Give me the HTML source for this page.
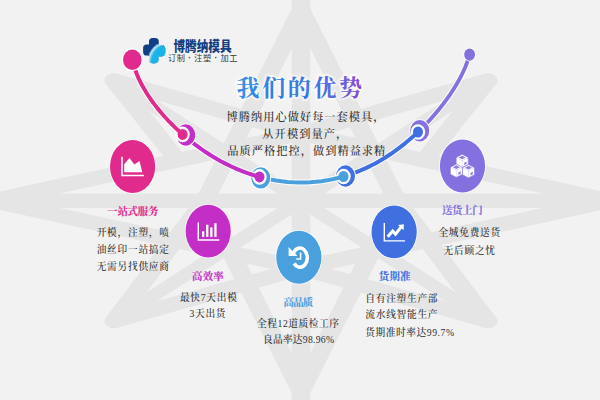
<!DOCTYPE html>
<html lang="zh-CN"><head><meta charset="utf-8"><title>我们的优势</title>
<style>
html,body{margin:0;padding:0;background:#f2f2f2;}
body{width:600px;height:400px;overflow:hidden;font-family:"Liberation Serif","Noto Serif CJK SC",serif;}
svg{display:block}
.h{font-family:"Liberation Serif","Noto Serif CJK SC",serif;font-weight:700;font-size:10.4px;}
.b{font-family:"Liberation Serif","Noto Serif CJK SC",serif;font-weight:500;font-size:9.7px;fill:#2e2e2e;}
.p{font-family:"Liberation Serif","Noto Serif CJK SC",serif;font-weight:500;font-size:11.2px;fill:#2e2e2e;}
</style></head><body>
<svg width="600" height="400" viewBox="0 0 600 400">
<defs>
<linearGradient id="tg" x1="0" y1="0" x2="1" y2="0"><stop offset="0" stop-color="#3a90e6"/><stop offset="0.3" stop-color="#2f7fe2"/><stop offset="0.6" stop-color="#3a76e4"/><stop offset="0.8" stop-color="#5f68e0"/><stop offset="1" stop-color="#8b46d2"/></linearGradient>
<filter id="glow" x="-10%" y="-30%" width="120%" height="160%"><feGaussianBlur stdDeviation="0.8"/></filter>
</defs>
<rect width="600" height="400" fill="#f2f2f2"/>
<g id="star"><g transform="translate(301,0) scale(1.3,1)"><polyline points="-73.85,200.70 0.00,10.00 73.85,200.70" fill="none" stroke="#e5e5e5" stroke-width="14.4" stroke-linejoin="round" stroke-linecap="round"/><polyline points="-73.85,200.70 0.00,391.50 73.85,200.70" fill="none" stroke="#e5e5e5" stroke-width="14.4" stroke-linejoin="round" stroke-linecap="round"/><polyline points="-143.85,80.50 -94.77,160.30" fill="none" stroke="#e5e5e5" stroke-width="14.4" stroke-linejoin="round" stroke-linecap="round"/><polyline points="143.85,80.50 94.77,160.30" fill="none" stroke="#e5e5e5" stroke-width="14.4" stroke-linejoin="round" stroke-linecap="round"/><polyline points="-143.85,321.00 -73.85,200.70" fill="none" stroke="#e5e5e5" stroke-width="14.4" stroke-linejoin="round" stroke-linecap="round"/><polyline points="143.85,321.00 73.85,200.70" fill="none" stroke="#e5e5e5" stroke-width="14.4" stroke-linejoin="round" stroke-linecap="round"/><polyline points="-143.85,80.50 0.00,133.50 237.69,200.70 0.00,268.00 -143.85,321.00" fill="none" stroke="#e5e5e5" stroke-width="14.4" stroke-linejoin="round" stroke-linecap="round"/><polyline points="143.85,80.50 0.00,133.50 -237.69,200.70 0.00,268.00 143.85,321.00" fill="none" stroke="#e5e5e5" stroke-width="14.4" stroke-linejoin="round" stroke-linecap="round"/><polyline points="0.00,-10.00 0.00,410.00" fill="none" stroke="#e5e5e5" stroke-width="14.4" stroke-linejoin="round" stroke-linecap="round"/><polyline points="-246.92,200.70 245.38,200.70" fill="none" stroke="#e5e5e5" stroke-width="14.4" stroke-linejoin="round" stroke-linecap="round"/><polyline points="-143.85,80.50 143.85,321.00" fill="none" stroke="#e5e5e5" stroke-width="12" stroke-linejoin="round" stroke-linecap="round"/><polyline points="143.85,80.50 -143.85,321.00" fill="none" stroke="#e5e5e5" stroke-width="12" stroke-linejoin="round" stroke-linecap="round"/></g></g>
<path d="M417.99,131.96 L422.48,127.58 L426.86,123.08 L431.11,118.49 L435.23,113.79 L439.23,108.99 L443.09,104.1 L446.81,99.12 L450.38,94.03 L453.78,88.84 L457.0,83.53 L460.03,78.09 L462.83,72.5 L465.39,66.74 L467.66,60.78 L469.6,54.6" fill="none" stroke="#fff" stroke-width="5.9" stroke-linecap="round" stroke-linejoin="round" opacity="0.92"/><path d="M417.99,131.96 L422.48,127.58 L426.86,123.08 L431.11,118.49 L435.23,113.79 L439.23,108.99 L443.09,104.1 L446.81,99.12 L450.38,94.03 L453.78,88.84 L457.0,83.53 L460.03,78.09 L462.83,72.5 L465.39,66.74 L467.66,60.78 L469.6,54.6" fill="none" stroke="#8570e0" stroke-width="3.9" stroke-linecap="round" stroke-linejoin="round"/>
<ellipse cx="419.75" cy="130.75" rx="10.4" ry="11.6" fill="#fff" opacity="0.92"/><ellipse cx="419.75" cy="130.75" rx="9.5" ry="10.7" fill="#8570e0" /><ellipse cx="418" cy="132" rx="7.2" ry="7.8" fill="#fff" />
<path d="M343.49,176.5 L349.04,174.77 L354.52,172.84 L359.94,170.7 L365.27,168.37 L370.53,165.85 L375.7,163.15 L380.79,160.27 L385.78,157.23 L390.68,154.03 L395.48,150.68 L400.18,147.19 L404.79,143.56 L409.29,139.81 L413.69,135.94 L417.99,131.96" fill="none" stroke="#fff" stroke-width="6" stroke-linecap="round" stroke-linejoin="round" opacity="0.92"/><path d="M343.49,176.5 L349.04,174.77 L354.52,172.84 L359.94,170.7 L365.27,168.37 L370.53,165.85 L375.7,163.15 L380.79,160.27 L385.78,157.23 L390.68,154.03 L395.48,150.68 L400.18,147.19 L404.79,143.56 L409.29,139.81 L413.69,135.94 L417.99,131.96" fill="none" stroke="#4070e0" stroke-width="4" stroke-linecap="round" stroke-linejoin="round"/>
<ellipse cx="345.5" cy="176.0" rx="10.4" ry="11.6" fill="#fff" opacity="0.92"/><ellipse cx="345.5" cy="176.0" rx="9.5" ry="10.7" fill="#4070e0" /><ellipse cx="343.5" cy="176.5" rx="7.2" ry="7.8" fill="#fff" />
<path d="M259.52,176.9 L265.04,178.3 L270.6,179.51 L276.2,180.53 L281.82,181.34 L287.47,181.95 L293.13,182.35 L298.79,182.54 L304.46,182.52 L310.12,182.3 L315.76,181.85 L321.38,181.2 L326.97,180.34 L332.52,179.27 L338.03,177.99 L343.49,176.5" fill="none" stroke="#fff" stroke-width="6" stroke-linecap="round" stroke-linejoin="round" opacity="0.92"/><path d="M259.52,176.9 L265.04,178.3 L270.6,179.51 L276.2,180.53 L281.82,181.34 L287.47,181.95 L293.13,182.35 L298.79,182.54 L304.46,182.52 L310.12,182.3 L315.76,181.85 L321.38,181.2 L326.97,180.34 L332.52,179.27 L338.03,177.99 L343.49,176.5" fill="none" stroke="#4aa0dc" stroke-width="4" stroke-linecap="round" stroke-linejoin="round"/>
<ellipse cx="260.75" cy="177.85" rx="10.4" ry="11.6" fill="#fff" opacity="0.92"/><ellipse cx="260.75" cy="177.85" rx="9.5" ry="10.7" fill="#4aa0dc" /><ellipse cx="259.5" cy="176.9" rx="7.2" ry="7.8" fill="#fff" />
<path d="M182.59,134.39 L187.06,138.21 L191.64,141.91 L196.32,145.49 L201.1,148.95 L205.98,152.28 L210.96,155.46 L216.03,158.51 L221.19,161.4 L226.44,164.14 L231.77,166.72 L237.18,169.12 L242.67,171.35 L248.22,173.39 L253.84,175.24 L259.52,176.9" fill="none" stroke="#fff" stroke-width="6" stroke-linecap="round" stroke-linejoin="round" opacity="0.92"/><path d="M182.59,134.39 L187.06,138.21 L191.64,141.91 L196.32,145.49 L201.1,148.95 L205.98,152.28 L210.96,155.46 L216.03,158.51 L221.19,161.4 L226.44,164.14 L231.77,166.72 L237.18,169.12 L242.67,171.35 L248.22,173.39 L253.84,175.24 L259.52,176.9" fill="none" stroke="#c32fc6" stroke-width="4" stroke-linecap="round" stroke-linejoin="round"/>
<ellipse cx="185.79999999999998" cy="135.0" rx="10.4" ry="11.6" fill="#fff" opacity="0.92"/><ellipse cx="185.79999999999998" cy="135.0" rx="9.5" ry="10.7" fill="#c32fc6" /><ellipse cx="182.6" cy="134.4" rx="7.2" ry="7.8" fill="#fff" />
<path d="M132.31,60.19 L133.98,66.28 L136.01,72.14 L138.37,77.8 L141.01,83.27 L143.9,88.58 L147.03,93.73 L150.35,98.74 L153.86,103.61 L157.54,108.36 L161.38,112.98 L165.36,117.5 L169.48,121.89 L173.73,126.17 L178.1,130.34 L182.59,134.39" fill="none" stroke="#fff" stroke-width="6" stroke-linecap="round" stroke-linejoin="round" opacity="0.92"/><path d="M132.31,60.19 L133.98,66.28 L136.01,72.14 L138.37,77.8 L141.01,83.27 L143.9,88.58 L147.03,93.73 L150.35,98.74 L153.86,103.61 L157.54,108.36 L161.38,112.98 L165.36,117.5 L169.48,121.89 L173.73,126.17 L178.1,130.34 L182.59,134.39" fill="none" stroke="#e02b8d" stroke-width="4" stroke-linecap="round" stroke-linejoin="round"/>
<ellipse cx="182.6" cy="134.4" rx="5.0" ry="5.5" fill="#e02b8d" />
<ellipse cx="259.5" cy="176.9" rx="5.0" ry="5.5" fill="#c32fc6" />
<ellipse cx="343.5" cy="176.5" rx="5.0" ry="5.5" fill="#4aa0dc" />
<ellipse cx="418" cy="132" rx="5.0" ry="5.5" fill="#4070e0" />
<ellipse cx="132.3" cy="59.8" rx="10.2" ry="11.2" fill="#fff" opacity="0.92"/>
<ellipse cx="132.3" cy="59.8" rx="9.3" ry="10.3" fill="#e02b8d" />
<ellipse cx="469.6" cy="54.6" rx="6.3" ry="7" fill="#fff" opacity="0.92"/>
<ellipse cx="469.6" cy="54.6" rx="5.4" ry="6.1" fill="#8570e0" />
<ellipse cx="132.6" cy="166.5" rx="23.4" ry="27.2" fill="#fff" opacity="0.85"/>
<ellipse cx="132.6" cy="166.5" rx="22.6" ry="26.4" fill="#e02b8d" />
<ellipse cx="208.2" cy="231.1" rx="23.4" ry="27.2" fill="#fff" opacity="0.85"/>
<ellipse cx="208.2" cy="231.1" rx="22.6" ry="26.4" fill="#c32fc6" />
<ellipse cx="298.85" cy="257.25" rx="23.4" ry="27.2" fill="#fff" opacity="0.85"/>
<ellipse cx="298.85" cy="257.25" rx="22.6" ry="26.4" fill="#4aa0dc" />
<ellipse cx="394.15" cy="231.9" rx="23.4" ry="27.2" fill="#fff" opacity="0.85"/>
<ellipse cx="394.15" cy="231.9" rx="22.6" ry="26.4" fill="#4070e0" />
<ellipse cx="462.5" cy="166" rx="23.4" ry="27.2" fill="#fff" opacity="0.85"/>
<ellipse cx="462.5" cy="166" rx="22.6" ry="26.4" fill="#8570e0" />
<path d="M122,156.7 V175.4 H143.8" fill="none" stroke="#fff" stroke-width="1.5"/>
<path d="M124.2,172.2 V164.2 L129.5,158 L134.3,164.4 L139.5,161 L142.3,172.2 Z" fill="#fff"/>
<path d="M198.3,222.2 V240 H219.3" fill="none" stroke="#fff" stroke-width="1.4"/>
<rect x="202" y="231.2" width="2.3" height="5.7" fill="#fff"/>
<rect x="206.1" y="224.7" width="2.3" height="12.2" fill="#fff"/>
<rect x="210.2" y="227.4" width="2.3" height="9.5" fill="#fff"/>
<rect x="214.3" y="223.2" width="2.3" height="13.7" fill="#fff"/>
<path d="M293.55,253.14 A7.3,9.6 0 1 1 294.17,263.43" fill="none" stroke="#fff" stroke-width="3.5"/>
<path d="M288.6,247.1 L288.6,255.9 L297.4,255.9 Z" fill="#fff"/>
<path d="M300.6,252.5 V259 H296.3" fill="none" stroke="#fff" stroke-width="1.6"/>
<path d="M384.3,223 V240.8 H405" fill="none" stroke="#fff" stroke-width="1.35"/>
<path d="M387.7,236.8 L392.7,231 L395.5,234.2 L401.6,226.4" fill="none" stroke="#fff" stroke-width="3" stroke-linejoin="miter"/>
<path d="M398.1,224.9 L403.9,224.2 L403.6,230.2 Z" fill="#fff"/>
<path d="M462.2,154.3 L468.25,157.5 L468.25,164.5 L462.2,167.70000000000002 L456.15,164.5 L456.15,157.5 Z" fill="#fff" stroke="#8570e0" stroke-width="0.6" stroke-linejoin="round"/><path d="M462.2,155.644 L465.709,157.5 L462.2,159.356 L458.691,157.5 Z" fill="#8570e0" opacity="0.9"/><path d="M456.15,157.5 L462.2,160.70000000000002 L468.25,157.5 M462.2,160.70000000000002 V167.70000000000002" fill="none" stroke="#8570e0" stroke-width="0.5" opacity="0.45"/><path d="M464.1965,162.66000000000003 L466.4955,161.44400000000002 L466.4955,163.96400000000003 L464.1965,165.18000000000004 Z" fill="#8570e0" opacity="0.9"/>
<path d="M456.4,164.0 L462.45,167.2 L462.45,174.2 L456.4,177.4 L450.34999999999997,174.2 L450.34999999999997,167.2 Z" fill="#fff" stroke="#8570e0" stroke-width="0.6" stroke-linejoin="round"/><path d="M456.4,165.344 L459.909,167.2 L456.4,169.05599999999998 L452.89099999999996,167.2 Z" fill="#8570e0" opacity="0.9"/><path d="M450.34999999999997,167.2 L456.4,170.4 L462.45,167.2 M456.4,170.4 V177.4" fill="none" stroke="#8570e0" stroke-width="0.5" opacity="0.45"/><path d="M458.3965,172.36 L460.6955,171.144 L460.6955,173.66400000000002 L458.3965,174.88000000000002 Z" fill="#8570e0" opacity="0.9"/>
<path d="M468.5,164.5 L474.55,167.7 L474.55,174.7 L468.5,177.9 L462.45,174.7 L462.45,167.7 Z" fill="#fff" stroke="#8570e0" stroke-width="0.6" stroke-linejoin="round"/><path d="M468.5,165.844 L472.009,167.7 L468.5,169.55599999999998 L464.991,167.7 Z" fill="#8570e0" opacity="0.9"/><path d="M462.45,167.7 L468.5,170.9 L474.55,167.7 M468.5,170.9 V177.9" fill="none" stroke="#8570e0" stroke-width="0.5" opacity="0.45"/><path d="M470.4965,172.86 L472.7955,171.644 L472.7955,174.16400000000002 L470.4965,175.38000000000002 Z" fill="#8570e0" opacity="0.9"/>
<g id="logo"><defs><clipPath id="clv"><rect x="149" y="38.1" width="9.8" height="14" rx="3.6"/><rect x="143.1" y="44.5" width="11" height="11" rx="3.6"/><rect x="154" y="44.9" width="11.2" height="11.5" rx="3.8"/><rect x="149" y="50" width="9.4" height="13.2" rx="3.8"/><rect x="148" y="46" width="11" height="10"/></clipPath></defs><g clip-path="url(#clv)"><rect x="140" y="35" width="30" height="30" fill="#103f86"/><circle cx="167.2" cy="60.8" r="19.6" fill="#4f8fd0"/><circle cx="167.6" cy="61.2" r="19.2" fill="#bfe4f8"/><circle cx="168.3" cy="61.6" r="18.6" fill="#6cc4ee"/><circle cx="169.2" cy="62.4" r="18.2" fill="#19b4e6"/></g></g>
<text x="173.4" y="50.5" font-family="'Liberation Sans','Noto Sans CJK SC',sans-serif" font-weight="900" font-size="13.2" fill="#123f82" textLength="58.2" lengthAdjust="spacingAndGlyphs">博腾纳模具</text>
<text x="168" y="61.4" font-family="'Liberation Sans','Noto Sans CJK SC',sans-serif" font-weight="400" font-size="8.2" fill="#3a3a3a" textLength="69.5" lengthAdjust="spacing">订制 <tspan font-weight="900">·</tspan> 注塑 <tspan font-weight="900">·</tspan> 加工</text>
<text x="236.6" y="95.6" font-family="'Liberation Serif','Noto Serif CJK SC',serif" font-weight="700" font-size="23" fill="#fff" stroke="#fff" stroke-width="3" stroke-linejoin="round" opacity="0.8" textLength="125.4" lengthAdjust="spacing" filter="url(#glow)">我们的优势</text>
<text x="236.6" y="95.6" font-family="'Liberation Serif','Noto Serif CJK SC',serif" font-weight="700" font-size="23" fill="url(#tg)" textLength="125.4" lengthAdjust="spacing">我们的优势</text>
<text x="226.5" y="120.6" class="p" textLength="158" lengthAdjust="spacing">博腾纳用心做好每一套模具，</text>
<text x="262.3" y="138.4" class="p" textLength="85" lengthAdjust="spacing">从开模到量产，</text>
<text x="227.3" y="155.2" class="p" textLength="158" lengthAdjust="spacing">品质严格把控，做到精益求精</text>
<text x="107.3" y="215" class="h" fill="#e02b8d" stroke="#e02b8d" stroke-width="0.15" textLength="51" lengthAdjust="spacing">一站式服务</text>
<text x="96.7" y="236" class="b" textLength="72.2" lengthAdjust="spacing">开模，注塑，喷</text>
<text x="96.7" y="253" class="b" textLength="72.2" lengthAdjust="spacing">油丝印一站搞定</text>
<text x="96.7" y="270.3" class="b" textLength="72.2" lengthAdjust="spacing">无需另找供应商</text>
<text x="192.1" y="279.6" class="h" fill="#c32fc6" stroke="#c32fc6" stroke-width="0.15" textLength="31.6" lengthAdjust="spacing">高效率</text>
<text x="179.9" y="301" class="b" textLength="57" lengthAdjust="spacing">最快<tspan font-weight="400">7</tspan>天出模</text>
<text x="189.5" y="317.3" class="b" textLength="36" lengthAdjust="spacing"><tspan font-weight="400">3</tspan>天出货</text>
<text x="283.6" y="305.5" class="h" fill="#4aa0dc" stroke="#4aa0dc" stroke-width="0.15" textLength="29.6" lengthAdjust="spacing">高品质</text>
<text x="257" y="326.8" class="b" textLength="82" lengthAdjust="spacing">全程<tspan font-weight="400">12</tspan>道质检工序</text>
<text x="263" y="343.3" class="b" textLength="71" lengthAdjust="spacing">良品率达<tspan font-weight="400">98.96%</tspan></text>
<text x="378.7" y="280.4" class="h" fill="#4070e0" stroke="#4070e0" stroke-width="0.15" textLength="31.8" lengthAdjust="spacing">货期准</text>
<text x="365.3" y="301.7" class="b" textLength="72.2" lengthAdjust="spacing">自有注塑生产部</text>
<text x="365.3" y="318.1" class="b" textLength="72.2" lengthAdjust="spacing">流水线智能生产</text>
<text x="365.3" y="335.5" class="b" textLength="88.7" lengthAdjust="spacing">货期准时率达<tspan font-weight="400">99.7%</tspan></text>
<text x="441.9" y="214.4" class="h" fill="#8570e0" stroke="#8570e0" stroke-width="0.15" textLength="40.8" lengthAdjust="spacing">送货上门</text>
<text x="438.4" y="236" class="b" textLength="61.8" lengthAdjust="spacing">全城免费送货</text>
<text x="443.6" y="254.1" class="b" textLength="51.4" lengthAdjust="spacing">无后顾之忧</text>
</svg>
</body></html>
